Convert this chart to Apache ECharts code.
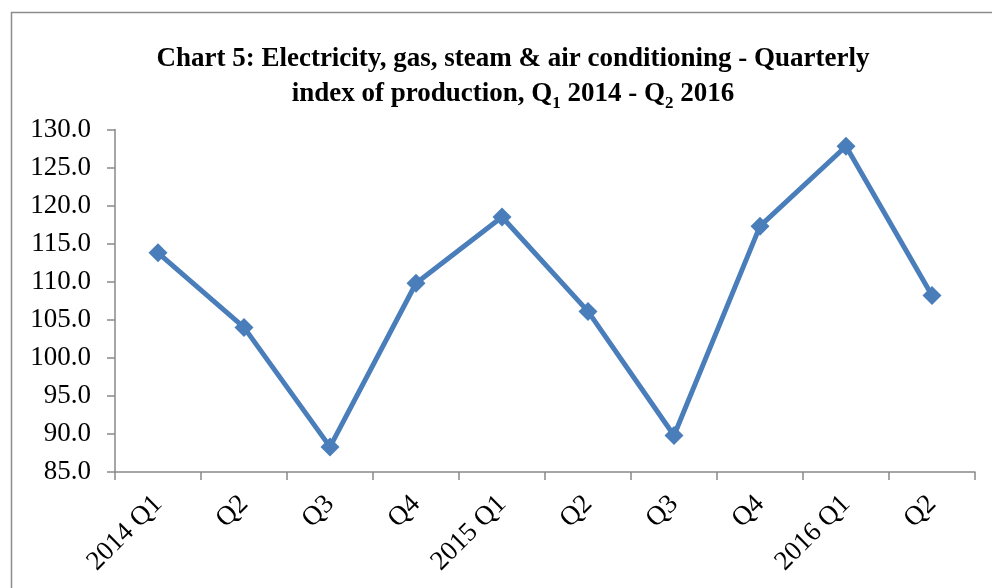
<!DOCTYPE html>
<html>
<head>
<meta charset="utf-8">
<script src="https://cdn.jsdelivr.net/npm/echarts@6/dist/echarts.min.js"></script>
<style>
  html, body { margin: 0; padding: 0; background: #fff; }
  #chart { width: 992px; height: 588px; }
</style>
</head>
<body>
<div id="chart"></div>
<script>
// quarters along the x axis
const quarters = ['2014 Q1', 'Q2', 'Q3', 'Q4', '2015 Q1', 'Q2', 'Q3', 'Q4', '2016 Q1', 'Q2']
// quarterly index of production
const indexValues = [113.8, 104.0, 88.3, 109.8, 118.5, 106.1, 89.8, 117.3, 127.8, 108.2]

const serif = '"Liberation Serif", "Times New Roman", serif'
const axisGrey = '#898989'

const chart = echarts.init(document.getElementById('chart'), null, { renderer: 'canvas' })

chart.setOption({
  animation: false,
  backgroundColor: '#fff',
  graphic: [{
    // outer chart frame (only left/top edges are visible in the picture)
    type: 'rect',
    shape: { x: 11.5, y: 12.5, width: 1000, height: 600 },
    style: { fill: 'none', stroke: '#8c8c8c', lineWidth: 1.5 },
    silent: true
  }],
  title: {
    text: 'Chart 5: Electricity, gas, steam & air conditioning - Quarterly\nindex of production, Q{sub|1} 2014 - Q{sub|2} 2016',
    left: 508,
    top: 37,
    textAlign: 'center',
    textStyle: {
      fontFamily: serif,
      fontWeight: 'bold',
      fontSize: 27,
      lineHeight: 35,
      color: '#000',
      rich: {
        sub: {
          fontFamily: serif,
          fontWeight: 'bold',
          fontSize: 17,
          lineHeight: 16,
          verticalAlign: 'bottom',
          color: '#000'
        }
      }
    }
  },
  grid: {
    left: 115,
    right: 17,
    top: 129.5,
    bottom: 116,
    containLabel: false
  },
  xAxis: {
    type: 'category',
    data: quarters,
    boundaryGap: true,
    axisLine: { lineStyle: { color: axisGrey, width: 1.5 } },
    axisTick: { show: true, length: 8, lineStyle: { color: axisGrey, width: 1.5 } },
    axisLabel: {
      interval: 0,
      rotate: 45,
      margin: 28,
      fontFamily: serif,
      fontSize: 27,
      color: '#000'
    }
  },
  yAxis: {
    type: 'value',
    min: 85,
    max: 130,
    interval: 5,
    axisLine: { show: true, lineStyle: { color: axisGrey, width: 1.5 } },
    axisTick: { show: true, length: 8, lineStyle: { color: axisGrey, width: 1.5 } },
    splitLine: { show: false },
    axisLabel: {
      margin: 24,
      fontFamily: serif,
      fontSize: 27,
      color: '#000',
      formatter: v => v.toFixed(1)
    }
  },
  series: [{
    type: 'line',
    data: indexValues,
    symbol: 'diamond',
    symbolSize: 19,
    lineStyle: { color: '#4a7ebb', width: 5 },
    itemStyle: { color: '#4a7ebb' }
  }]
})
</script>
</body>
</html>
